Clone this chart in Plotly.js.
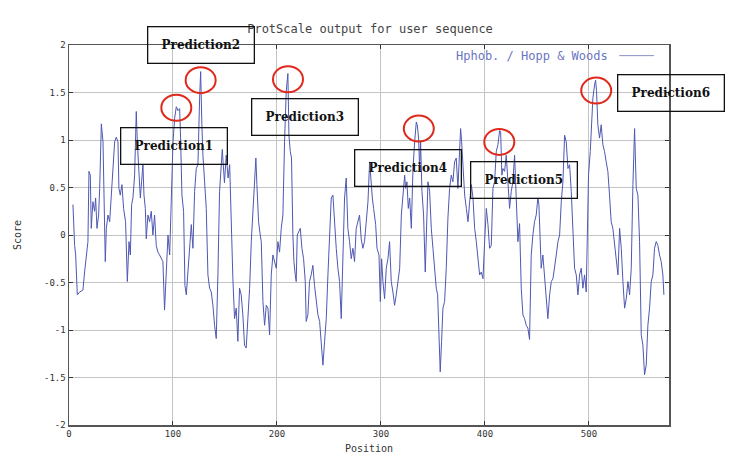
<!DOCTYPE html>
<html>
<head>
<meta charset="utf-8">
<script src="https://cdn.plot.ly/plotly-3.0.1.min.js"></script>
<style>html,body{margin:0;padding:0;background:#fff;}#chart{width:743px;height:465px;}</style>
</head>
<body>
<div id="chart"></div>
<script>
// Hopp & Woods hydrophobicity profile (positions and scores)
const positions = [
3.8,4.4,5.4,6.4,8.0,10.2,13.4,15.0,16.6,18.2,19.2,20.5,21.4,23.0,24.6,25.6,26.9,28.5,29.5,31.1,
32.7,33.6,34.9,35.9,37.5,39.1,40.7,42.3,43.9,45.5,47.1,48.0,49.3,50.9,52.5,54.4,56.1,57.7,59.0,60.2,
61.5,63.1,64.7,65.7,67.3,68.6,69.8,71.1,72.1,73.4,74.3,75.9,77.5,79.1,80.7,82.3,83.9,85.5,87.1,88.7,
90.3,91.9,92.9,93.6,95.2,96.8,98.4,100.0,101.6,103.2,104.8,106.4,107.3,108.6,110.2,111.5,112.8,114.4,116.0,117.6,
119.2,120.8,122.4,124.0,125.6,126.6,127.8,128.8,130.4,132.0,133.6,135.2,136.8,138.4,140.0,141.6,143.2,144.8,147.4,149.5,
151.2,153.0,154.5,156.0,157.6,159.2,160.8,162.4,164.0,165.6,167.2,168.8,170.4,172.0,173.7,175.3,176.9,178.5,179.7,180.7,
182.3,183.9,184.9,186.5,188.1,189.7,191.3,192.9,194.5,196.1,197.7,199.3,200.9,202.5,204.1,205.7,207.3,208.9,210.5,211.5,
212.8,214.0,215.3,216.3,217.6,218.5,219.5,220.8,222.4,224.0,225.6,227.2,228.1,229.7,231.3,232.9,234.5,236.1,237.8,239.4,
241.0,242.6,244.2,245.8,247.4,249.0,250.6,252.2,253.8,255.4,257.0,258.6,260.2,261.8,263.4,265.0,266.6,268.2,269.8,271.4,
273.0,274.6,276.2,277.8,279.4,281.0,282.6,284.2,285.8,287.5,289.1,290.4,291.7,292.9,294.9,296.2,298.1,299.4,300.6,301.9,
303.5,305.1,306.7,308.3,309.9,311.5,313.1,314.7,316.3,318.0,319.6,321.2,322.8,323.7,325.0,326.3,327.6,329.2,330.8,332.4,
334.0,334.9,336.2,337.2,338.1,339.4,341.0,342.6,343.6,345.2,346.8,348.4,350.0,351.6,353.2,354.5,355.8,357.0,358.3,359.6,
361.2,362.8,364.4,366.0,367.6,369.2,370.8,372.4,374.0,375.6,376.6,377.6,378.8,380.5,382.1,383.7,385.3,386.9,388.5,390.1,
391.7,393.3,394.9,396.5,398.1,399.7,401.3,402.9,404.5,406.1,407.7,409.3,410.9,412.5,414.1,415.1,416.3,417.3,418.9,420.5,
422.1,423.7,425.3,426.9,428.5,430.1,431.7,433.3,434.9,436.5,438.1,439.7,441.3,442.9,443.6,444.5,446.1,447.7,449.3,450.9,
451.9,453.2,454.1,455.7,457.3,458.9,460.5,462.2,463.8,465.4,467.0,468.6,470.2,471.8,473.4,475.0,476.6,478.2,479.8,481.4,
483.0,484.6,486.2,487.8,489.4,491.0,492.6,494.2,495.8,497.4,498.4,499.6,501.3,502.5,503.8,505.4,506.4,507.3,508.6,510.2,
511.8,513.4,515.0,516.6,518.2,519.8,521.4,523.0,524.6,526.3,527.9,529.5,531.1,532.7,534.3,535.9,537.5,539.1,540.7,542.3,
543.9,545.5,547.1,548.7,550.3,551.9,553.5,555.1,556.7,558.3,559.9,561.5,563.1,564.7,566.3,567.9,569.5,571.1,572.1
];
const scores = [
0.32,0.14,-0.11,-0.21,-0.63,-0.60,-0.58,-0.39,-0.21,-0.07,0.67,0.63,0.07,0.35,0.25,0.39,0.07,0.21,0.49,1.17,
0.98,0.42,-0.28,0.07,0.21,0.14,0.42,0.63,0.98,1.03,0.98,0.49,0.42,0.53,0.28,0.14,-0.49,-0.07,-0.21,0.32,
0.39,0.63,1.30,0.98,0.70,0.39,0.56,0.74,0.42,0.28,-0.04,0.21,0.14,0.25,0.00,0.21,-0.11,-0.18,-0.21,-0.25,
-0.28,-0.79,-0.56,-0.25,0.00,-0.21,0.28,0.98,1.23,1.35,1.31,1.33,1.02,0.42,0.25,-0.53,-0.63,-0.35,-0.07,0.11,
-0.14,0.46,0.70,0.74,1.44,1.72,1.16,0.84,0.56,0.28,-0.42,-0.56,-0.60,-0.74,-0.95,-1.09,-0.42,0.46,0.90,0.55,
0.84,0.60,0.74,0.00,-0.46,-0.88,-0.77,-1.12,-0.56,-0.63,-0.84,-1.16,-1.19,-0.88,-0.56,-0.07,0.21,0.60,0.81,0.53,
0.14,0.00,-0.07,-0.70,-0.95,-0.74,-0.77,-1.05,-0.42,-0.21,-0.28,-0.35,-0.07,-0.18,0.07,0.21,0.98,1.51,1.70,1.05,
0.88,0.81,0.00,-0.28,-0.42,-0.49,0.00,0.04,0.07,-0.14,-0.25,-0.49,-0.91,-0.84,-0.49,-0.42,-0.32,-0.53,-0.70,-0.84,
-0.91,-1.12,-1.37,-1.12,-0.88,-0.42,-0.07,0.39,0.42,0.07,-0.14,-0.35,-0.49,-0.88,-0.07,0.39,0.60,0.07,-0.07,-0.25,
-0.14,-0.28,0.07,0.14,0.21,-0.04,-0.14,-0.07,0.14,0.35,0.77,0.53,0.39,0.28,0.11,-0.14,-0.21,-0.70,-0.25,-0.49,
-0.67,-0.35,-0.25,-0.07,-0.49,-0.60,-0.74,-0.63,-0.49,-0.35,0.21,0.42,0.63,0.49,0.56,0.28,0.39,0.07,0.70,0.98,
1.19,1.16,1.02,0.70,0.98,0.46,0.21,-0.39,0.07,0.56,0.46,0.07,-0.14,-0.35,-0.56,-0.63,-1.05,-1.44,-1.12,-0.77,
-0.70,-0.35,0.18,0.49,0.63,0.56,0.77,0.81,0.49,1.02,1.12,0.98,0.70,0.42,0.28,0.14,0.35,0.53,0.39,0.07,
-0.07,-0.28,-0.42,-0.39,-0.46,-0.07,0.28,0.11,-0.14,-0.11,0.49,0.56,0.88,0.95,1.10,1.09,0.63,0.70,0.67,0.84,
0.49,0.28,0.46,0.56,0.84,0.28,-0.07,0.12,-0.56,-0.84,-0.88,-0.95,-0.98,-1.10,-0.42,-0.21,0.00,0.14,0.21,0.39,
0.32,-0.07,-0.35,-0.21,-0.42,-0.70,-0.88,-0.63,-0.49,-0.46,-0.35,-0.21,-0.07,0.00,0.35,0.56,1.05,0.98,0.70,0.74,
0.46,0.11,-0.35,-0.42,-0.63,-0.42,-0.35,-0.56,-0.42,-0.60,0.00,0.63,0.88,1.16,1.44,1.58,1.63,1.52,1.16,1.02,
1.16,0.95,0.88,0.77,0.67,0.42,0.14,0.07,-0.07,-0.25,-0.42,0.07,-0.14,-0.49,-0.77,-0.67,-0.49,-0.63,-0.35,0.53,
1.12,0.49,0.42,-0.07,-1.05,-1.16,-1.47,-1.37,-0.95,-0.77,-0.49,-0.42,-0.14,-0.07,-0.11,-0.21,-0.28,-0.42,-0.63
];

// Axis ticks
const xTickVals = [0, 100, 200, 300, 400, 500];
const xTickText = ["0", "100", "200", "300", "400", "500"];
const yTickVals = [2, 1.5, 1, 0.5, 0, -0.5, -1, -1.5, -2];
const yTickText = ["2", "1.5", "1", "0.5", "0", "-0.5", "-1", "-1.5", "-2"];

// Predicted peaks (circled) and their label boxes
const peakPos = [103.2, 126.6, 210.6, 336.4, 413.8, 507.0];
const peakScore = [1.34, 1.63, 1.64, 1.12, 0.98, 1.52];
const labelText = ["Prediction1", "Prediction2", "Prediction3", "Prediction4", "Prediction5", "Prediction6"];
// label box centres as fractions of the plot area
const labelX = [0.175, 0.2208, 0.3933, 0.565, 0.7583, 1.0033];
const labelY = [0.7344, 1.0005, 0.8093, 0.676, 0.6445, 0.8744];

const lineColor = "rgb(78,88,178)";
const mono = "DejaVu Sans Mono, monospace";

const trace = {
  x: positions, y: scores, type: "scatter", mode: "lines",
  line: {color: lineColor, width: 1}, name: "Hphob. / Hopp & Woods",
  hoverinfo: "skip", showlegend: false
};

const shapes = peakPos.map((p, i) => ({
  type: "circle", xref: "x", yref: "y", xsizemode: "pixel", ysizemode: "pixel",
  xanchor: p, yanchor: peakScore[i], x0: -15, x1: 15, y0: -13, y1: 13,
  line: {color: "#e0281c", width: 2}
}));
// legend sample line (drawn to the right of the legend text)
shapes.push({type: "line", xref: "paper", yref: "paper", x0: 0.917, x1: 0.975, y0: 0.972, y1: 0.972,
  line: {color: "#8890c8", width: 1}});

const annotations = labelText.map((t, i) => ({
  text: "<b>" + t + "</b>", x: labelX[i], y: labelY[i], xref: "paper", yref: "paper",
  showarrow: false, xanchor: "center", yanchor: "middle",
  width: 103, height: 33, borderpad: 1, bordercolor: "#111", borderwidth: 1.3,
  bgcolor: "rgba(255,255,255,0)",
  font: {family: "DejaVu Serif, serif", size: 12, color: "#111"}
}));
annotations.push({
  text: "Hphob. / Hopp & Woods", xref: "paper", yref: "paper", x: 0.902, y: 0.972,
  xanchor: "right", yanchor: "middle", showarrow: false,
  font: {family: mono, size: 12, color: "#6a76c4"}
});

const layout = {
  width: 743, height: 465,
  margin: {l: 69, r: 74, t: 45, b: 40},
  paper_bgcolor: "#fff", plot_bgcolor: "#fff",
  title: {text: "ProtScale output for user sequence", xref: "container", yref: "container",
    x: 0.498, y: 0.937, xanchor: "center", yanchor: "middle",
    font: {family: mono, size: 12, color: "#444"}},
  xaxis: {
    range: [0, 577], tickvals: xTickVals, ticktext: xTickText,
    showgrid: true, gridcolor: "#c4c4c4", gridwidth: 1, zeroline: false,
    showline: true, linecolor: "#555", linewidth: 1.5, mirror: "ticks",
    ticks: "inside", ticklen: 4, tickcolor: "#333",
    tickfont: {family: mono, size: 9, color: "#333"},
    title: {text: "Position", standoff: 6, font: {family: mono, size: 10, color: "#333"}},
    automargin: false
  },
  yaxis: {
    range: [-2, 2], tickvals: yTickVals, ticktext: yTickText,
    showgrid: true, gridcolor: "#c4c4c4", gridwidth: 1, zeroline: false,
    showline: true, linecolor: "#555", linewidth: 1.5, mirror: "ticks",
    ticks: "inside", ticklen: 4, tickcolor: "#333",
    tickfont: {family: mono, size: 9, color: "#333"},
    title: {text: "Score", standoff: 20, font: {family: mono, size: 10, color: "#333"}},
    automargin: false
  },
  shapes: shapes,
  annotations: annotations,
  showlegend: false
};

Plotly.newPlot("chart", [trace], layout, {displayModeBar: false, staticPlot: true});
</script>
</body>
</html>
